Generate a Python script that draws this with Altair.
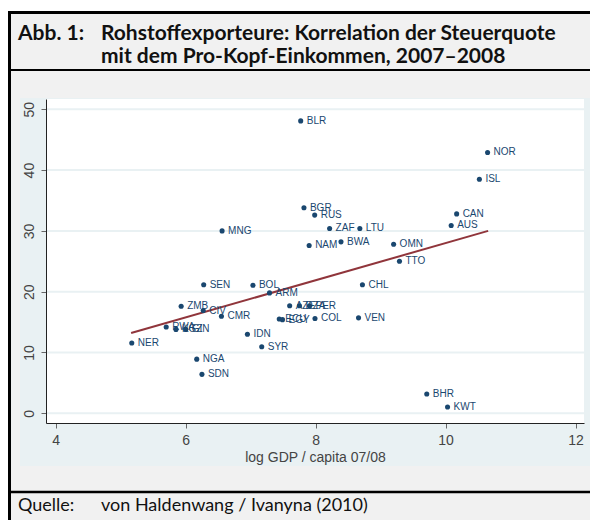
import altair as alt
import pandas as pd

# ---- data ----
countries = ["BLR", "NOR", "ISL", "BGR", "RUS", "CAN", "ZAF", "LTU", "AUS", "MNG",
             "NAM", "BWA", "OMN", "TTO", "CHL", "SEN", "BOL", "ARM", "ZMB", "CIV",
             "CMR", "RWA", "KGZ", "GIN", "NER", "IDN", "SYR", "NGA", "SDN", "ECU",
             "EGY", "AZE", "DZA", "PER", "COL", "VEN", "BHR", "KWT"]
log_gdp = [7.77, 10.646, 10.52, 7.82, 7.985, 10.17, 8.215, 8.68, 10.086, 6.56,
           7.90, 8.39, 9.20, 9.29, 8.72, 6.277, 7.035, 7.29, 5.93, 6.27,
           6.55, 5.70, 5.85, 6.00, 5.17, 6.95, 7.17, 6.17, 6.25, 7.44,
           7.49, 7.60, 7.75, 7.905, 7.99, 8.66, 9.71, 10.03]
tax_ratio = [48.1, 42.9, 38.5, 33.8, 32.6, 32.8, 30.4, 30.4, 30.9, 30.0,
             27.6, 28.2, 27.8, 25.0, 21.15, 21.15, 21.05, 19.8, 17.6, 16.9,
             15.95, 14.2, 13.8, 13.8, 11.56, 13.0, 10.95, 8.9, 6.4, 15.5,
             15.4, 17.7, 17.7, 17.7, 15.6, 15.7, 3.17, 1.04]
fit_x = [5.16, 10.655]
fit_y = [13.2, 30.0]
x_ticks = [4, 6, 8, 10, 12]
y_ticks = [0, 10, 20, 30, 40, 50]

title_label = "Abb. 1:"
title_lines = ["Rohstoffexporteure: Korrelation der Steuerquote",
               "mit dem Pro-Kopf-Einkommen, 2007–2008"]
source_label = "Quelle:"
source_text = "von Haldenwang / Ivanyna (2010)"
x_title = "log GDP / capita 07/08"

pts = pd.DataFrame({"country": countries, "gdp": log_gdp, "tax": tax_ratio})
fit = pd.DataFrame({"gdp": fit_x, "tax": fit_y})
grid = pd.DataFrame({"tax": y_ticks})

W, H = 538, 324
BOTTOM_PAD = 97
RIGHT_PAD = 6
NAVY = "#1a476f"
MAROON = "#90353b"
BLUEGRAY = "#e9f1f3"
PAGE = "#f1f1f1"

xs = alt.Scale(domain=[3.85, 12.13], nice=False, zero=False)
ys = alt.Scale(domain=[-1.6, 51.7], nice=False, zero=False)
xaxis = alt.Axis(values=x_ticks, title=x_title, grid=False, zindex=1,
                 titlePadding=3)
yaxis = alt.Axis(values=y_ticks, title=None, grid=False, zindex=1,
                 labelAngle=-90, labelAlign="center", labelBaseline="bottom",
                 labelPadding=5)
X = alt.X("gdp:Q", scale=xs, axis=xaxis)
Y = alt.Y("tax:Q", scale=ys, axis=yaxis)

one = alt.Data(values=[{"a": 1}])


def rect(x1, x2, y1, y2, color):
    return alt.Chart(one).mark_rect(color=color, strokeWidth=0).encode(
        x=alt.value(x1), x2=alt.value(x2), y=alt.value(y1), y2=alt.value(y2))


def hline(y, x1, x2, w):
    return alt.Chart(one).mark_rule(color="black", strokeWidth=w).encode(
        x=alt.value(x1), x2=alt.value(x2), y=alt.value(y))


def vline(x, y1, y2, w):
    return alt.Chart(one).mark_rule(color="black", strokeWidth=w).encode(
        x=alt.value(x), y=alt.value(y1), y2=alt.value(y2))


def txt(s, x, y, size, bold=False):
    return alt.Chart(one).mark_text(
        text=s, align="left", baseline="alphabetic", font="Lato",
        fontSize=size, fontWeight="bold" if bold else "normal",
        color="#111").encode(x=alt.value(x), y=alt.value(y))


bottom = H + BOTTOM_PAD
right = W + RIGHT_PAD
page_bg = rect(-38, right, -87, bottom, PAGE)
frame = [hline(-86.5, -38, right, 3), vline(-36.5, -87, bottom, 3),
         hline(-29, -38, right, 2), hline(393, -38, right, 2.5)]
graph_bg = rect(-26, 547, -1, 367, BLUEGRAY)
plot_bg = rect(0, W, 0, H, "white")

grid_layer = alt.Chart(grid).mark_rule(color=BLUEGRAY, strokeWidth=2).encode(
    y=Y, x=alt.value(0), x2=alt.value(W))
fit_layer = alt.Chart(fit).mark_line(color=MAROON, strokeWidth=2).encode(x=X, y=Y)
points = alt.Chart(pts).mark_circle(size=26, opacity=1, color=NAVY).encode(x=X, y=Y)
labels = alt.Chart(pts).mark_text(
    align="left", baseline="middle", dx=6, fontSize=10, font="Liberation Sans",
    color=NAVY).encode(x=X, y=Y, text="country:N")

texts = [txt(title_label, -28, -59, 21, True),
         txt(title_lines[0], 55, -59, 21, True),
         txt(title_lines[1], 55, -36, 21, True),
         txt(source_label, -28, 412, 18),
         txt(source_text, 55, 412, 18)]

chart = alt.layer(page_bg, *frame, graph_bg, plot_bg, grid_layer, fit_layer,
                  points, labels, *texts).properties(
    width=W, height=H,
    padding={"left": 38, "top": 91, "right": RIGHT_PAD, "bottom": BOTTOM_PAD},
    autosize=alt.AutoSizeParams(type="none"),
    background="white",
).configure_view(stroke=None, fill=None).configure_axis(
    domainColor="#222", domainWidth=1, tickColor="#666", tickSize=5,
    tickWidth=1, labelColor="#444", labelFont="Liberation Sans",
    labelFontSize=14, titleColor="#444", titleFont="Liberation Sans",
    titleFontSize=14, titleFontWeight="normal", labelPadding=5)

chart.save("out.html", embed_options={"renderer": "svg", "actions": False})
